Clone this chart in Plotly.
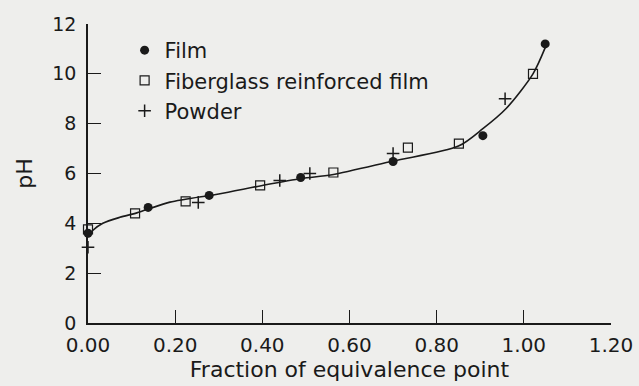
import plotly.graph_objects as go

film_x = [0.0, 0.138, 0.278, 0.488, 0.70, 0.906, 1.049]
film_y = [3.6, 4.64, 5.12, 5.84, 6.48, 7.52, 11.2]

fiber_x = [0.0, 0.108, 0.224, 0.395, 0.563, 0.734, 0.851, 1.021]
fiber_y = [3.76, 4.4, 4.88, 5.52, 6.04, 7.04, 7.2, 10.0]

powder_x = [0.0, 0.253, 0.44, 0.509, 0.70, 0.957]
powder_y = [3.04, 4.84, 5.72, 6.0, 6.8, 9.0]

curve_x = [0.0, 0.01, 0.034, 0.073, 0.112, 0.188, 0.30, 0.40, 0.49, 0.56, 0.70, 0.85, 0.906, 0.96, 1.021, 1.049]
curve_y = [3.45, 3.7, 4.0, 4.24, 4.42, 4.85, 5.18, 5.52, 5.8, 5.95, 6.5, 7.1, 7.8, 8.62, 10.0, 11.05]

x_ticks = [0.0, 0.2, 0.4, 0.6, 0.8, 1.0, 1.2]
x_labels = ["0.00", "0.20", "0.40", "0.60", "0.80", "1.00", "1.20"]
y_ticks = [0, 2, 4, 6, 8, 10, 12]

ink = "#1a1a1a"
bg = "#eeeeec"
font = "DejaVu Sans"

fig = go.Figure()
fig.add_trace(go.Scatter(x=curve_x, y=curve_y, mode="lines", line=dict(color=ink, width=1.6, shape="spline", smoothing=0.8),
                         showlegend=False, hoverinfo="skip"))
fig.add_trace(go.Scatter(x=film_x, y=film_y, mode="markers", name="Film",
                         marker=dict(symbol="circle", size=9, color=ink), cliponaxis=False))
fig.add_trace(go.Scatter(x=fiber_x, y=fiber_y, mode="markers", name="Fiberglass reinforced film",
                         marker=dict(symbol="square-open", size=9, color=ink, line=dict(width=1.2)), cliponaxis=False))
fig.add_trace(go.Scatter(x=powder_x, y=powder_y, mode="markers", name="Powder",
                         marker=dict(symbol="cross-thin-open", size=9, color=ink, line=dict(width=1.5, color=ink)), cliponaxis=False))

fig.update_layout(
    width=639, height=386,
    margin=dict(l=88, r=28, t=24, b=63),
    paper_bgcolor=bg, plot_bgcolor=bg,
    font=dict(family=font, size=20, color=ink),
    legend=dict(x=0.07, y=0.98, xanchor="left", yanchor="top", bgcolor="rgba(0,0,0,0)",
                font=dict(family=font, size=21, color=ink), itemwidth=30),
    xaxis=dict(range=[0, 1.2], tickvals=x_ticks, ticktext=x_labels, ticks="inside", ticklen=13,
               tickwidth=1.4, tickcolor=ink, showline=True, linecolor=ink, linewidth=1.5,
               showgrid=False, zeroline=False, automargin=False, ticklabelstandoff=3,
               tickfont=dict(family=font, size=20),
               title=dict(text="Fraction of equivalence point", font=dict(family=font, size=22), standoff=0)),
    yaxis=dict(range=[0, 12], tickvals=y_ticks, ticks="inside", ticklen=13,
               tickwidth=1.4, tickcolor=ink, showline=True, linecolor=ink, linewidth=1.5,
               showgrid=False, zeroline=False, automargin=False, ticklabelstandoff=6,
               tickfont=dict(family=font, size=19),
               title=dict(text="pH", font=dict(family=font, size=22), standoff=14)),
)

fig.write_html("out.html", config={"displayModeBar": False},
               post_script="document.body.style.margin='0';document.body.style.background='%s';" % bg)
